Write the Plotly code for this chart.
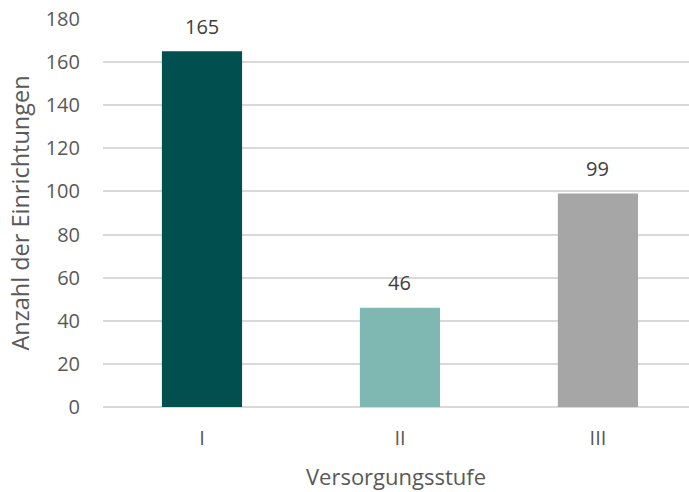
import plotly.graph_objects as go

# Einrichtungen je Versorgungsstufe
stufen = ["I", "II", "III"]
anzahl = [165, 46, 99]
farben = ["#024F4F", "#7FB7B3", "#A6A6A6"]

y_ticks = list(range(0, 181, 20))

FONT = "Open Sans"
GREY = "#595959"
TICK_SIZE = 20
TITLE_SIZE = 22

fig = go.Figure()
fig.add_trace(go.Bar(
    x=stufen,
    y=anzahl,
    marker=dict(color=farben, line=dict(width=0)),
    width=0.405,
    hoverinfo="x+y",
))

# value labels above each bar
for s, v in zip(stufen, anzahl):
    fig.add_annotation(
        x=s, y=v, text=str(v), showarrow=False,
        yanchor="middle", yshift=25,
        font=dict(family=FONT, size=TICK_SIZE, color="#404040"),
    )

fig.update_layout(
    width=689, height=492,
    margin=dict(l=103, r=0, t=19, b=85),
    paper_bgcolor="white", plot_bgcolor="white",
    showlegend=False,
    font=dict(family=FONT, size=TICK_SIZE, color=GREY),
)
fig.update_xaxes(
    type="category",
    range=[-0.5, 2.46],
    showgrid=False, zeroline=False, showline=False,
    ticks="", ticklabelstandoff=17,
    tickfont=dict(family=FONT, size=TICK_SIZE, color=GREY),
    title=dict(text="Versorgungsstufe", standoff=19,
               font=dict(family=FONT, size=TITLE_SIZE, color=GREY)),
)
fig.update_yaxes(
    range=[0, 180],
    tickvals=y_ticks,
    showgrid=True, gridcolor="#D9D9D9", gridwidth=1.5,
    zeroline=True, zerolinecolor="#D9D9D9", zerolinewidth=1.5,
    showline=False, ticks="", ticklabelstandoff=22,
    tickfont=dict(family=FONT, size=TICK_SIZE, color=GREY),
    title=dict(text="Anzahl der Einrichtungen", standoff=9,
               font=dict(family=FONT, size=23.5, color=GREY)),
)

fig.write_html("out.html")
